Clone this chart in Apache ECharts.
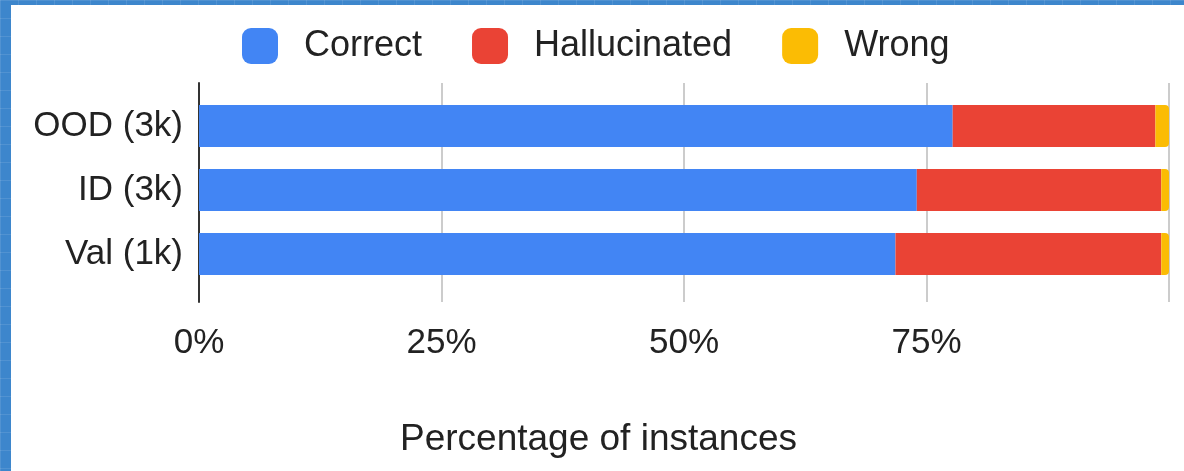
<!DOCTYPE html>
<html>
<head>
<meta charset="utf-8">
<script src="https://cdn.jsdelivr.net/npm/echarts@6/dist/echarts.min.js"></script>
<style>
  html, body { margin: 0; padding: 0; }
  body {
    width: 1184px; height: 471px; overflow: hidden;
    background-color: #3d86cc;
    background-image:
      linear-gradient(rgba(255,255,255,0.10) 1px, transparent 1px),
      linear-gradient(90deg, rgba(255,255,255,0.10) 1px, transparent 1px);
    background-size: 18px 18px;
    position: relative;
  }
  #chart { position: absolute; left: 11px; top: 5px; width: 1173px; height: 466px; background: #fff; }
</style>
</head>
<body>
<div id="chart"></div>
<script>
  // data (percent of instances)
  const categories = ['OOD (3k)', 'ID (3k)', 'Val (1k)']
  const correct = [77.7, 74.0, 71.8]
  const hallucinated = [20.9, 25.2, 27.4]
  const wrong = [1.4, 0.8, 0.8]
  const xTicks = [0, 25, 50, 75, 100]

  const font = 'Liberation Sans, Arial, sans-serif'
  const dom = echarts.init(document.getElementById('chart'))

  const option = {
    animation: false,
    title: {
      text: 'Percentage of instances',
      left: 384,
      top: 411,
      textStyle: { fontFamily: font, fontSize: 37, fontWeight: 'normal', color: '#222' }
    },
    legend: {
      data: ['Correct', 'Hallucinated', 'Wrong'],
      left: 231,
      top: 23,
      padding: 0,
      icon: 'roundRect',
      itemWidth: 36,
      itemHeight: 36,
      itemGap: 50,
      textStyle: { fontFamily: font, fontSize: 36, color: '#222', padding: [0, 0, 0, 21] }
    },
    grid: [
      // axis + gridline frame
      { left: 188, right: 15, top: 78, bottom: 169 },
      // bars
      { left: 188, right: 15, top: 89, bottom: 185 }
    ],
    xAxis: [{
      gridIndex: 0,
      type: 'value',
      min: xTicks[0],
      max: xTicks[xTicks.length - 1],
      interval: 25,
      axisLine: { show: false },
      axisTick: { show: false },
      splitLine: { lineStyle: { color: '#cccccc', width: 2 } },
      axisLabel: {
        margin: 24,
        fontFamily: font, fontSize: 35, color: '#222',
        formatter: v => v === 100 ? '' : v + '%'
      }
    }, {
      gridIndex: 1,
      type: 'value',
      min: 0,
      max: 100,
      show: false
    }],
    yAxis: [{
      gridIndex: 0,
      type: 'value',
      min: 0,
      max: 1,
      axisLine: { show: true, lineStyle: { color: '#333', width: 2 } },
      axisTick: { show: false },
      axisLabel: { show: false },
      splitLine: { show: false }
    }, {
      gridIndex: 1,
      type: 'category',
      inverse: true,
      data: categories,
      axisLine: { show: false },
      axisTick: { show: false },
      axisLabel: { margin: 16, fontFamily: font, fontSize: 35, color: '#222' }
    }],
    series: [{
      name: 'Correct', type: 'bar', stack: 'all', xAxisIndex: 1, yAxisIndex: 1,
      barWidth: 42, itemStyle: { color: '#4285f4' }, data: correct
    }, {
      name: 'Hallucinated', type: 'bar', stack: 'all', xAxisIndex: 1, yAxisIndex: 1,
      barWidth: 42, itemStyle: { color: '#ea4335' }, data: hallucinated
    }, {
      name: 'Wrong', type: 'bar', stack: 'all', xAxisIndex: 1, yAxisIndex: 1,
      barWidth: 42, itemStyle: { color: '#fbbc04', borderRadius: [0, 4, 4, 0] }, data: wrong
    }]
  }
  dom.setOption(option)
</script>
</body>
</html>
